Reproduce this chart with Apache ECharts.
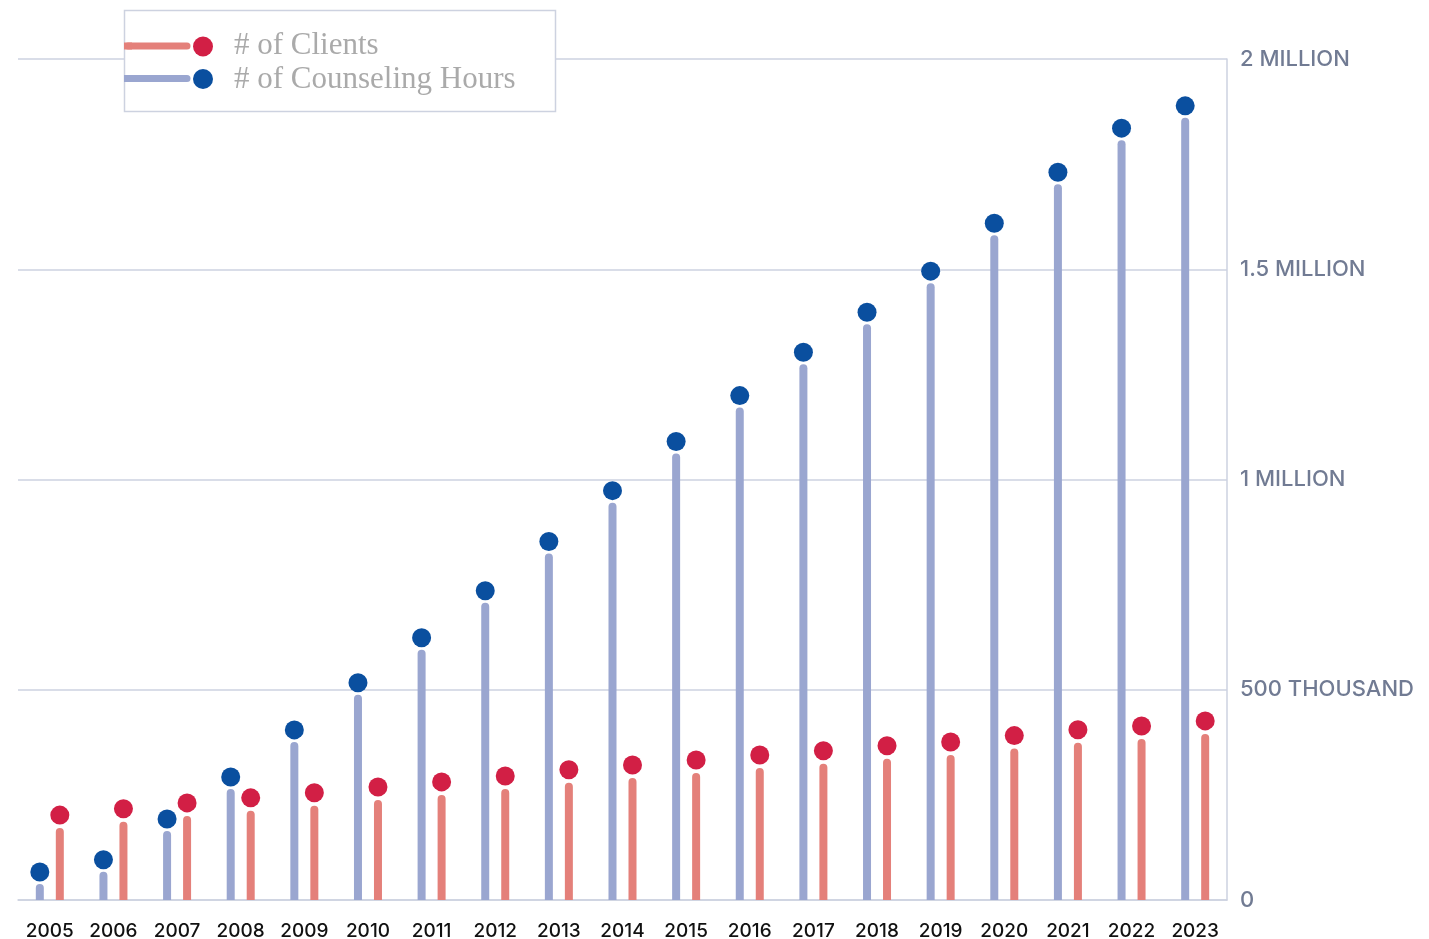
<!DOCTYPE html>
<html lang="en" style="height: 100%">
  <head>
    <meta charset="utf-8" />
  </head>
  <body style="height: 100%; margin: 0; background: #fff">
    <div id="container" style="width: 1429px; height: 939px"></div>

    <script src="https://cdn.jsdelivr.net/npm/echarts@6/dist/echarts.min.js"></script>
    <script>
      // years on the x axis
      var years = ["2005","2006","2007","2008","2009","2010","2011","2012","2013","2014",
                   "2015","2016","2017","2018","2019","2020","2021","2022","2023"];
      // counseling hours
      var hours = [38000, 67000, 164000, 264000, 376000, 488000, 595000, 707000, 824000, 945000,
                   1062000, 1171000, 1274000, 1369000, 1467000, 1581000, 1702000, 1807000, 1860000];
      // clients
      var clients = [171000, 186000, 200000, 212000, 224000, 238000, 250000, 264000, 279000, 290000,
                     302000, 314000, 324000, 336000, 345000, 360000, 374000, 383000, 395000];
      // right axis tick labels
      var tickLabels = { 0: "0", 500000: "500 THOUSAND", 1000000: "1 MILLION", 1500000: "1.5 MILLION", 2000000: "2 MILLION" };

      var lineColor = "#cdd2e0";
      var hoursBar = "#9aa6d0", hoursDot = "#0a4f9f";
      var clientsBar = "#e4807a", clientsDot = "#d21f45";
      var legendFont = "31px 'Liberation Serif'";

      var myChart = echarts.init(document.getElementById("container"), null, { renderer: "canvas" });

      var option = {
        animation: false,
        grid: { left: 18, right: 202, top: 59, bottom: 39, outerBoundsMode: "none", containLabel: false },
        xAxis: {
          type: "category",
          data: years,
          axisLine: { lineStyle: { color: lineColor, width: 1.5 } },
          axisTick: { show: false },
          axisLabel: { color: "#111", fontSize: 19, fontFamily: "Inter", fontWeight: 500, margin: 22 },
        },
        yAxis: {
          type: "value",
          position: "right",
          min: 0,
          max: 2000000,
          interval: 500000,
          axisLine: { show: true, lineStyle: { color: lineColor, width: 1.5 } },
          axisTick: { show: false },
          splitLine: { lineStyle: { color: lineColor, width: 1.5 } },
          axisLabel: {
            fontSize: 22,
            fontFamily: "Inter",
            fontWeight: 500,
            margin: 13,
            color: function (v) { return v === 0 ? "#222" : "#717b93"; },
            formatter: function (v) { return tickLabels[v]; },
          },
        },
        series: [
          {
            type: "bar",
            data: hours,
            barWidth: 8,
            barGap: "150%",
            itemStyle: { color: hoursBar, borderRadius: [4, 4, 0, 0] },
          },
          {
            type: "bar",
            data: clients,
            barWidth: 8,
            itemStyle: { color: clientsBar, borderRadius: [4, 4, 0, 0] },
          },
          {
            type: "scatter",
            data: hours,
            symbolSize: 19,
            symbolOffset: [-10, -12],
            itemStyle: { color: hoursDot, opacity: 1 },
            z: 3,
          },
          {
            type: "scatter",
            data: clients,
            symbolSize: 19,
            symbolOffset: [10, -13],
            itemStyle: { color: clientsDot, opacity: 1 },
            z: 3,
          },
        ],
        graphic: [
          { type: "rect", z: 100, shape: { x: 124.5, y: 10.5, width: 431, height: 101 },
            style: { fill: "#fff", stroke: lineColor, lineWidth: 1.5 } },
          { type: "line", z: 101, shape: { x1: 128, y1: 46, x2: 187, y2: 46 },
            style: { stroke: clientsBar, lineWidth: 7, lineCap: "round" } },
          { type: "rect", z: 101, shape: { x: 124, y: 42.5, width: 8, height: 7 }, style: { fill: clientsBar } },
          { type: "circle", z: 101, shape: { cx: 203, cy: 46.5, r: 10 }, style: { fill: clientsDot } },
          { type: "text", z: 101, x: 234, y: 46, style: { text: "# of Clients", fill: "#aaaaaa",
              font: legendFont, verticalAlign: "middle" } },
          { type: "line", z: 101, shape: { x1: 128, y1: 78.5, x2: 187, y2: 78.5 },
            style: { stroke: hoursBar, lineWidth: 7, lineCap: "round" } },
          { type: "rect", z: 101, shape: { x: 124, y: 75, width: 8, height: 7 }, style: { fill: hoursBar } },
          { type: "circle", z: 101, shape: { cx: 203, cy: 79, r: 10 }, style: { fill: hoursDot } },
          { type: "text", z: 101, x: 234, y: 80, style: { text: "# of Counseling Hours", fill: "#aaaaaa",
              font: legendFont, verticalAlign: "middle" } },
        ],
      };

      myChart.setOption(option);
      window.addEventListener("resize", myChart.resize);
    </script>
  </body>
</html>
